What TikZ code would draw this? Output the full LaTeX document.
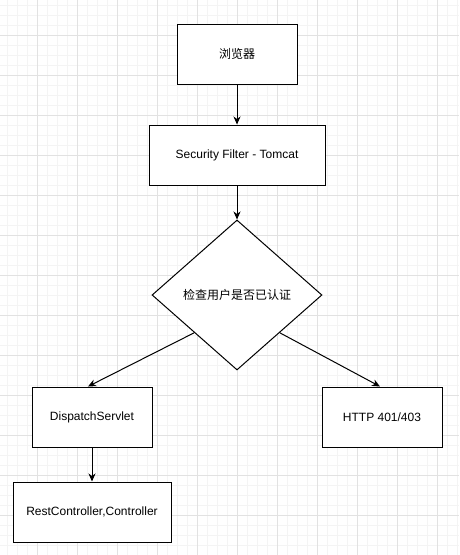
\documentclass[tikz,border=0pt]{standalone}
\usepackage{fontspec}
\setmainfont{Liberation Sans}
\newfontfamily\cjk{Noto Sans CJK SC}
\usetikzlibrary{arrows.meta,shapes.geometric,calc}
\definecolor{gridminor}{HTML}{F4F4F4}
\definecolor{gridmajor}{HTML}{E2E2E2}
\begin{document}
\begin{tikzpicture}[x=1pt, y=-1pt, line width=1pt,
    box/.style={draw, fill=white, minimum height=60pt, inner sep=0pt, font=\fontsize{12pt}{14pt}\selectfont},
    decision/.style={draw, fill=white, diamond, aspect=1.133, minimum width=170pt, minimum height=150pt, inner sep=0pt, font=\fontsize{12pt}{14pt}\selectfont\cjk},
    flow/.style={-{Stealth[length=8pt, width=7pt, inset=2.5pt]}, line width=1pt}]
    \useasboundingbox (0,0) rectangle (459,555);
    \fill[white] (0,0) rectangle (459,555);
    % Grid
    \foreach \x in {7,17,...,457}
        \draw[gridminor] (\x,0) -- (\x,555);
    \foreach \y in {5,15,...,555}
        \draw[gridminor] (0,\y) -- (459,\y);
    \foreach \x in {37,77,...,457}
        \draw[gridmajor] (\x,0) -- (\x,555);
    \foreach \y in {35,75,...,555}
        \draw[gridmajor] (0,\y) -- (459,\y);
    % Boxes
    \node[box, minimum width=120pt, font=\fontsize{12pt}{14pt}\selectfont\cjk] (browser) at (237,54) {浏览器};
    \node[box, minimum width=176pt] (filter) at (237,155) {Security Filter - Tomcat};
    \node[decision] (check) at (237,295) {检查用户是否已认证};
    \node[box, minimum width=120pt] (servlet) at (92,417) {DispatchServlet};
    \node[box, minimum width=120pt] (http) at (382,417) {HTTP 401/403};
    \node[box, minimum width=158pt] (rest) at (92,512) {RestController,Controller};
    % Arrows
    \draw[flow] (browser) -- (filter);
    \draw[flow] (filter) -- (check);
    \draw[flow] ($(check.west)!0.5!(check.south)$) -- ([xshift=-4pt]servlet.north);
    \draw[flow] ($(check.east)!0.5!(check.south)$) -- ([xshift=-2pt]http.north);
    \draw[flow] (servlet) -- (rest);
\end{tikzpicture}
\end{document}
